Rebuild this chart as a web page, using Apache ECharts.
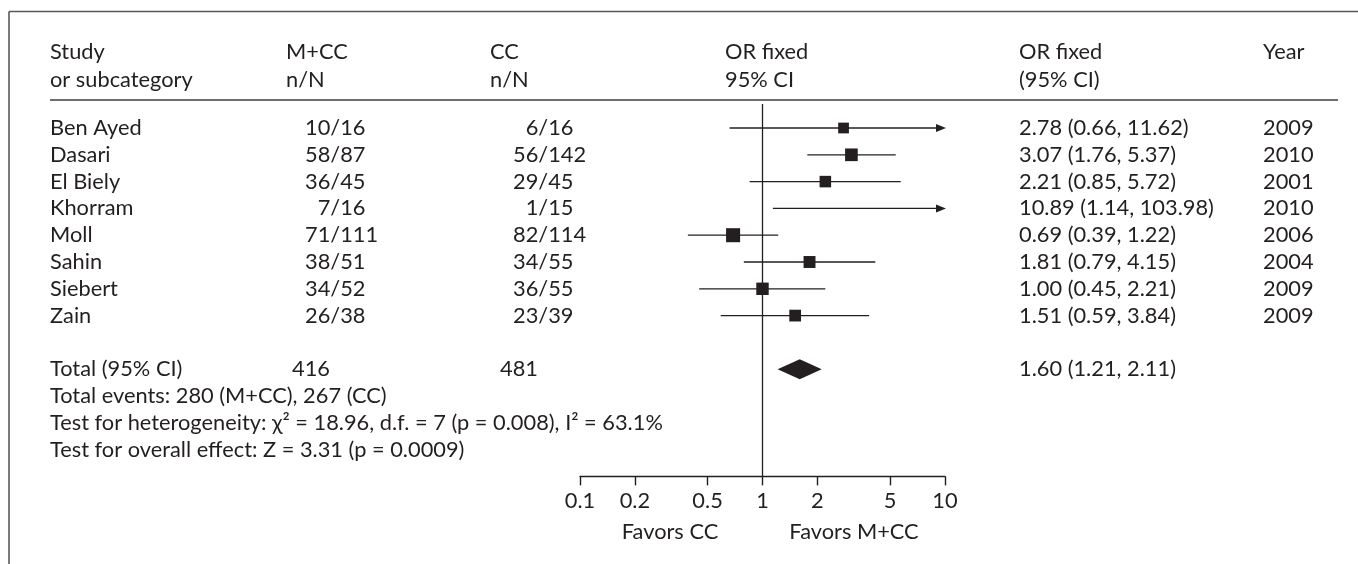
<!DOCTYPE html>
<html><head><meta charset="utf-8">
<script src="https://cdn.jsdelivr.net/npm/echarts@6/dist/echarts.min.js"></script>
<style>html,body{margin:0;padding:0;background:#fff}#c{width:1358px;height:564px}</style>
</head><body><div id="c"></div>
<script>
// ---- data ----
const studies   = ['Ben Ayed','Dasari','El Biely','Khorram','Moll','Sahin','Siebert','Zain'];
const mccEvents = [10, 58, 36, 7, 71, 38, 34, 26];
const mccTotal  = [16, 87, 45, 16, 111, 51, 52, 38];
const ccEvents  = [6, 56, 29, 1, 82, 34, 36, 23];
const ccTotal   = [16, 142, 45, 15, 114, 55, 55, 39];
const orValue   = [2.78, 3.07, 2.21, 10.89, 0.69, 1.81, 1.00, 1.51];
const ciLow     = [0.66, 1.76, 0.85, 1.14, 0.39, 0.79, 0.45, 0.59];
const ciHigh    = [11.62, 5.37, 5.72, 103.98, 1.22, 4.15, 2.21, 3.84];
const years     = [2009, 2010, 2001, 2010, 2006, 2004, 2009, 2009];
const weights   = [2.8, 17.8, 7.3, 0.7, 36.6, 10.5, 15.2, 9.0]; // estimated study weights (%)
const totalN    = [416, 481];
const pooled    = [1.60, 1.21, 2.11];
const tickValues = [0.1, 0.2, 0.5, 1, 2, 5, 10];
const footLines = [
  'Total events: 280 (M+CC), 267 (CC)',
  'Test for heterogeneity: \u03c7\u00b2 = 18.96, d.f. = 7 (p = 0.008), I\u00b2 = 63.1%',
  'Test for overall effect: Z = 3.31 (p = 0.0009)'
];

// ---- layout / style ----
const FONT = 'Lato';
const INK = '#231f20';
const measure = (txt, fs) => {
  const c = document.createElement('canvas').getContext('2d');
  c.font = fs + 'px ' + FONT;
  return c.measureText(txt).width;
};
const FS = Math.round(20 * 613 / measure(footLines[1], 20) * 10) / 10;
const X_MIN = 0.1, X_MAX = 10;
const studyRows = studies.map((s, i) => i + 1);
const totalRow = 10;
const footRows = [11, 12, 13];
const Y_MAX = 14;

const chart = echarts.init(document.getElementById('c'), null, {renderer: 'canvas'});
const fmt = v => String(Math.round(v * 10) / 10);

chart.setOption({
  animation: false,
  backgroundColor: '#fff',
  grid: {left: 580, width: 365, top: 101.2, height: 375.2, containLabel: false},
  xAxis: {
    type: 'log', logBase: 10, min: X_MIN, max: X_MAX,
    axisLine: {onZero: false, lineStyle: {color: INK, width: 1.4}},
    axisTick: {show: true, customValues: tickValues, length: 9, inside: false, lineStyle: {color: INK, width: 1.4}},
    axisLabel: {customValues: tickValues, formatter: fmt, color: INK, fontFamily: FONT, fontSize: FS, margin: 14},
    splitLine: {show: false}, minorTick: {show: false}
  },
  yAxis: {type: 'value', inverse: true, min: 0, max: Y_MAX, show: false},
  series: [
    {
      type: 'line', data: [[1, 0.1], [1, Y_MAX]], symbol: 'none', silent: true,
      lineStyle: {color: INK, width: 1.3}
    },
    {
      type: 'custom',
      data: studies.map((s, i) => [orValue[i], studyRows[i], ciLow[i], ciHigh[i], weights[i]]),
      renderItem: function (params, api) {
        const or = api.value(0), y = api.value(1), lo = api.value(2), hi = api.value(3), w = api.value(4);
        const loC = Math.max(lo, X_MIN), hiC = Math.min(hi, X_MAX);
        const pLo = api.coord([loC, y]), pHi = api.coord([hiC, y]);
        const children = [];
        const arrow = hi > X_MAX;
        const lineEnd = arrow ? pHi[0] - 8 : pHi[0];
        children.push({type: 'line', shape: {x1: pLo[0], y1: pLo[1], x2: lineEnd, y2: pHi[1]},
          style: {stroke: INK, lineWidth: 1.3}});
        if (arrow) {
          children.push({type: 'polygon', shape: {points: [[pHi[0] - 9, pHi[1] - 4], [pHi[0] + 1, pHi[1]], [pHi[0] - 9, pHi[1] + 4]]},
            style: {fill: INK}});
        }
        if (or >= X_MIN && or <= X_MAX) {
          const p = api.coord([or, y]);
          const s = 9.5 + 0.75 * Math.sqrt(w);
          children.push({type: 'rect', shape: {x: p[0] - s / 2, y: p[1] - s / 2, width: s, height: s}, style: {fill: INK}});
        }
        return {type: 'group', children};
      }
    },
    {
      type: 'custom',
      data: [[pooled[0], totalRow, pooled[1], pooled[2]]],
      renderItem: function (params, api) {
        const y = api.value(1);
        const c = api.coord([api.value(0), y]);
        const l = api.coord([api.value(2), y]);
        const r = api.coord([api.value(3), y]);
        return {type: 'polygon', shape: {points: [[l[0], l[1]], [c[0], c[1] - 10], [r[0], r[1]], [c[0], c[1] + 10]]},
          style: {fill: INK}};
      }
    }
  ]
});

// ---- table text via graphic, rows placed through the y scale ----
const rowY = r => chart.convertToPixel({yAxisIndex: 0}, r);
const T = (x, y, text, align) => ({
  type: 'text', x: x, y: y,
  style: {text: text, fill: INK, font: FS + 'px ' + FONT, textAlign: align || 'left', textVerticalAlign: 'middle'}
});
const COL = {name: 50, mccHead: 286, mccVal: 305, totMcc: 292, ccHead: 490, ccVal: 513, totCc: 500, orHead: 725, orText: 1019, year: 1263};
const twoDigits = measure('00', FS);
const g = [];
// frame
g.push({type: 'line', shape: {x1: 9, y1: 11.5, x2: 1358, y2: 11.5}, style: {stroke: '#58595b', lineWidth: 1.6}});
g.push({type: 'line', shape: {x1: 9, y1: 11.5, x2: 9, y2: 564}, style: {stroke: '#58595b', lineWidth: 1.6}});
// header
const hy1 = 52, hy2 = 80;
g.push(T(COL.name, hy1, 'Study'), T(COL.name, hy2, 'or subcategory'));
g.push(T(COL.mccHead, hy1, 'M+CC'), T(COL.mccHead, hy2, 'n/N'));
g.push(T(COL.ccHead, hy1, 'CC'), T(COL.ccHead, hy2, 'n/N'));
g.push(T(COL.orHead, hy1, 'OR fixed'), T(COL.orHead, hy2, '95% CI'));
g.push(T(COL.orText, hy1, 'OR fixed'), T(COL.orText, hy2, '(95% CI)'));
g.push(T(COL.year, hy1, 'Year'));
g.push({type: 'line', shape: {x1: 50, y1: 100, x2: 1338, y2: 100}, style: {stroke: '#6d6e71', lineWidth: 1.8}});
// study rows
studies.forEach((s, i) => {
  const y = rowY(studyRows[i]);
  g.push(T(COL.name, y, s));
  g.push(T(COL.mccVal + twoDigits, y, String(mccEvents[i]), 'right'), T(COL.mccVal + twoDigits, y, '/' + mccTotal[i]));
  g.push(T(COL.ccVal + twoDigits, y, String(ccEvents[i]), 'right'), T(COL.ccVal + twoDigits, y, '/' + ccTotal[i]));
  g.push(T(COL.orText, y, orValue[i].toFixed(2) + ' (' + ciLow[i].toFixed(2) + ', ' + ciHigh[i].toFixed(2) + ')'));
  g.push(T(COL.year, y, String(years[i])));
});
// total
const ty = rowY(totalRow);
g.push(T(COL.name, ty, 'Total (95% CI)'), T(COL.totMcc, ty, String(totalN[0])), T(COL.totCc, ty, String(totalN[1])));
g.push(T(COL.orText, ty, pooled[0].toFixed(2) + ' (' + pooled[1].toFixed(2) + ', ' + pooled[2].toFixed(2) + ')'));
footLines.forEach((t, i) => g.push(T(COL.name, rowY(footRows[i]), t)));
// favours labels
const fy = 532;
g.push(T(670, fy, 'Favors CC', 'center'), T(854, fy, 'Favors M+CC', 'center'));
chart.setOption({graphic: {elements: g}});
</script>
</body></html>
